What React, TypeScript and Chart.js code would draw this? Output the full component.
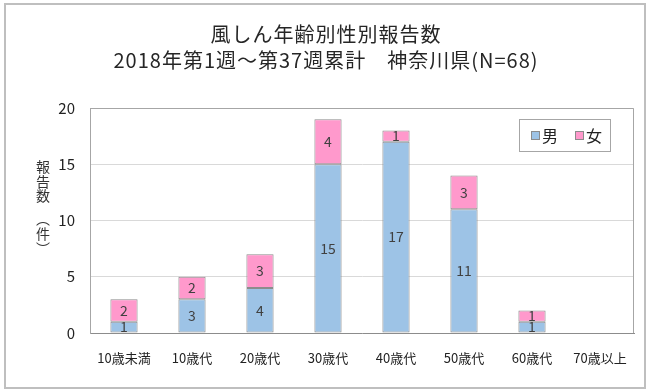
import React, { useEffect, useRef } from "react";
import { Chart, registerables } from "chart.js";

Chart.register(...registerables);

const categories = ["10歳未満", "10歳代", "20歳代", "30歳代", "40歳代", "50歳代", "60歳代", "70歳以上"];
const maleValues = [1, 3, 4, 15, 17, 11, 1, 0];
const femaleValues = [2, 2, 3, 4, 1, 3, 1, 0];
const seriesNames = ["男", "女"];
const titleLines = ["風しん年齢別性別報告数", "2018年第1週～第37週累計　神奈川県(N=68)"];
const yAxisTitle = ["報", "告", "数", "︵", "件", "︶"];
const yTicks = [0, 5, 10, 15, 20];

const FONT = "'Noto Sans CJK JP', 'Noto Sans', sans-serif";
const BLUE = "#9DC3E6";
const PINK = "#FF99CC";
const BORDER = "#8C8C8C";

const decorPlugin = {
  id: "decor",
  beforeDraw(chart: any) {
    const ctx = chart.ctx;
    ctx.save();
    ctx.fillStyle = "#ffffff";
    ctx.fillRect(0, 0, chart.width, chart.height);
    ctx.strokeStyle = "#BFBFBF";
    ctx.lineWidth = 2;
    ctx.strokeRect(5, 4, chart.width - 10, chart.height - 8);
    ctx.restore();
  },
  afterDraw(chart: any) {
    const ctx = chart.ctx;
    const ca = chart.chartArea;
    ctx.save();
    // title
    ctx.fillStyle = "#262626";
    ctx.font = `20px ${FONT}`;
    (ctx as any).letterSpacing = "1px";
    ctx.textAlign = "center";
    ctx.textBaseline = "middle";
    ctx.fillText(titleLines[0], 326, 34);
    ctx.fillText(titleLines[1], 326, 60);
    (ctx as any).letterSpacing = "0px";
    // plot border (top/right)
    ctx.strokeStyle = "#A6A6A6";
    ctx.lineWidth = 1;
    ctx.beginPath();
    ctx.moveTo(ca.left + 0.5, ca.top + 0.5);
    ctx.lineTo(ca.right - 0.5, ca.top + 0.5);
    ctx.lineTo(ca.right - 0.5, ca.bottom);
    ctx.stroke();
    // y axis title (vertical stacked)
    ctx.fillStyle = "#333333";
    ctx.font = `14px ${FONT}`;
    ctx.textAlign = "center";
    const yPos = [167, 181.5, 196, 219, 234, 249];
    yAxisTitle.forEach((ch, i) => {
      ctx.fillText(ch, 43, yPos[i]);
    });
    // data labels
    ctx.font = `14px ${FONT}`;
    ctx.fillStyle = "#404040";
    chart.data.datasets.forEach((ds: any, di: number) => {
      const meta = chart.getDatasetMeta(di);
      meta.data.forEach((bar: any, i: number) => {
        const v = ds.data[i];
        if (!v) return;
        const y = (bar.y + bar.base) / 2;
        ctx.fillText(String(v), bar.x, y);
      });
    });
    // legend
    const lx = 519, ly = 119, lw = 91, lh = 32;
    ctx.fillStyle = "#ffffff";
    ctx.fillRect(lx, ly, lw, lh);
    ctx.strokeStyle = "#A6A6A6";
    ctx.strokeRect(lx + 0.5, ly + 0.5, lw, lh);
    const items = [
      { name: seriesNames[0], color: BLUE, x: lx + 12 },
      { name: seriesNames[1], color: PINK, x: lx + 56 },
    ];
    ctx.font = `16px ${FONT}`;
    ctx.textAlign = "left";
    items.forEach((it) => {
      ctx.fillStyle = it.color;
      ctx.fillRect(it.x, ly + 12, 8, 8);
      ctx.strokeStyle = BORDER;
      ctx.strokeRect(it.x + 0.5, ly + 12.5, 8, 8);
      ctx.fillStyle = "#222222";
      ctx.fillText(it.name, it.x + 11, ly + 17);
    });
    ctx.restore();
  },
};

export default function App() {
  const canvasRef = useRef<HTMLCanvasElement | null>(null);

  useEffect(() => {
    document.body.style.margin = "0";
    const canvas = canvasRef.current;
    if (!canvas) return;
    const chart = new Chart(canvas, {
      type: "bar",
      data: {
        labels: categories,
        datasets: [
          {
            label: seriesNames[0],
            data: maleValues,
            backgroundColor: BLUE,
            borderColor: BORDER,
            borderWidth: 1,
            borderSkipped: false,
            barPercentage: 0.4,
            categoryPercentage: 1,
          },
          {
            label: seriesNames[1],
            data: femaleValues,
            backgroundColor: PINK,
            borderColor: BORDER,
            borderWidth: 1,
            borderSkipped: false,
            barPercentage: 0.4,
            categoryPercentage: 1,
          },
        ],
      },
      options: {
        animation: false,
        responsive: false,
        maintainAspectRatio: false,
        devicePixelRatio: 1,
        layout: { padding: { left: 0, right: 16, top: 108, bottom: 0 } },
        plugins: {
          legend: { display: false },
          title: { display: false },
          tooltip: { enabled: false },
        },
        scales: {
          x: {
            stacked: true,
            grid: { display: false, drawTicks: false },
            border: { display: true, color: "#8C8C8C", width: 1 },
            ticks: {
              color: "#222222",
              font: { family: FONT, size: 13 },
              padding: 17,
              maxRotation: 0,
              autoSkip: false,
            },
            afterFit(scale: any) {
              scale.height = 59;
            },
          },
          y: {
            stacked: true,
            min: 0,
            max: 20,
            afterBuildTicks(scale: any) {
              scale.ticks = yTicks.map((v) => ({ value: v }));
            },
            grid: { color: "#D9D9D9", drawTicks: false },
            border: { display: true, color: "#A6A6A6", width: 1 },
            ticks: {
              color: "#222222",
              font: { family: FONT, size: 15 },
              padding: 15,
            },
            afterFit(scale: any) {
              scale.width = 90;
            },
          },
        },
      },
      plugins: [decorPlugin],
    } as any);
    return () => chart.destroy();
  }, []);

  return (
    <div style={{ width: 650, height: 392 }}>
      <canvas ref={canvasRef} width={650} height={392} style={{ display: "block" }} />
    </div>
  );
}
